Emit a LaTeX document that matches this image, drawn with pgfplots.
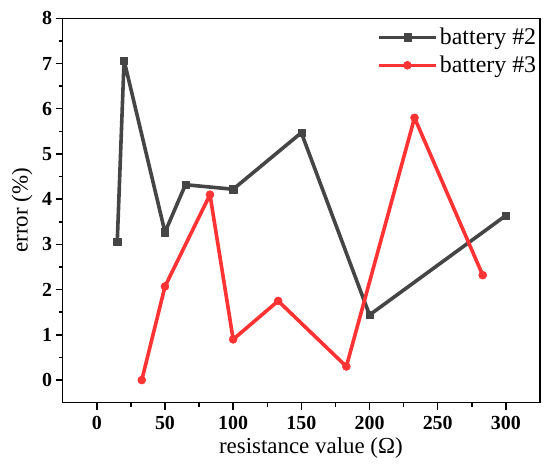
\documentclass[border=0pt]{standalone}
\usepackage{fontspec}
\setmainfont{Liberation Serif}
\usepackage{pgfplots}
\pgfplotsset{compat=1.18}
\definecolor{bgrey}{HTML}{454545}
\definecolor{bred}{HTML}{FF3333}
\begin{document}
\begin{tikzpicture}
\begin{axis}[
  scale only axis,
  width=477.3bp, height=384.4bp,
  xmin=-25, xmax=325, ymin=-0.5, ymax=8,
  xtick={0,50,...,300}, ytick={0,1,...,8},
  minor x tick num=1, minor y tick num=1,
  axis line style={line width=1.5bp},
  tick style={line width=1.5bp, black},
  major tick length=7bp, minor tick length=4bp,
  tick align=outside,
  xtick pos=bottom, ytick pos=left,
  /pgf/number format/assume math mode=true,
  ticklabel style={font=\fontsize{20}{20}\selectfont\bfseries},
  xticklabel style={yshift=-3bp},
  xlabel={resistance value (Ω)},
  ylabel={error (\%)},
  every axis x label/.style={at={(axis description cs:0.52,-0.118)},anchor=center,font=\fontsize{23}{23}\selectfont},
  every axis y label/.style={at={(axis description cs:-0.085,0.5)},rotate=90,anchor=center,font=\fontsize{23}{23}\selectfont},
  legend style={draw=none, fill=none, at={(axis description cs:0.66,0.98)}, anchor=north west,
    font=\fontsize{24}{24}\selectfont, row sep=6bp, inner sep=0pt},
  legend cell align=left,
  legend image code/.code={\draw[mark repeat=2,mark phase=2,#1,line width=3bp] plot coordinates {(0bp,0bp) (28bp,0bp) (57bp,0bp)};},
]
\addplot[color=bgrey, line width=3.6bp, line join=round, mark=square*, mark size=3.6bp, mark options={line width=0.5bp}]
  coordinates {(15,3.05) (20,7.07) (50,3.27) (65,4.32) (100,4.22) (150,5.47) (200,1.44) (300,3.64)};
\addlegendentry{battery \#2}
\addplot[color=bred, line width=3.6bp, line join=round, mark=*, mark size=4bp, mark options={line width=0.5bp}]
  coordinates {(33,0) (50,2.07) (83,4.1) (100,0.9) (133,1.75) (183,0.3) (233,5.8) (283,2.32)};
\addlegendentry{battery \#3}
\end{axis}
\path (current axis.south west) ++(-62.7bp,-71.3bp) coordinate (bbl);
\path (current axis.north east) ++(10bp,18.3bp) coordinate (bbr);
\useasboundingbox (bbl) rectangle (bbr);
\end{tikzpicture}
\end{document}
